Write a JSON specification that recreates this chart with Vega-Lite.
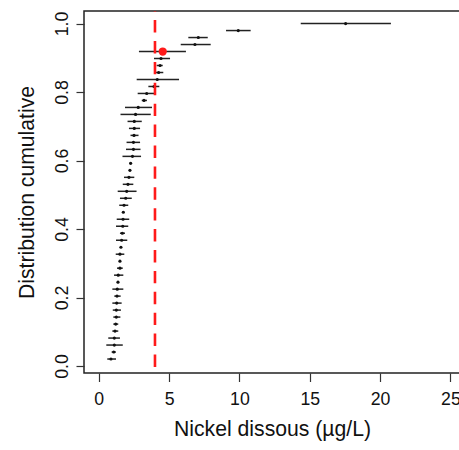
{
  "$schema": "https://vega.github.io/schema/vega-lite/v6.json",
  "width": 376,
  "height": 362,
  "autosize": {"type": "none"},
  "padding": {"left": 84, "top": 11, "right": -1, "bottom": 77},
  "background": "white",
  "config": {
    "font": "Liberation Sans",
    "view": {"stroke": "#222222", "strokeWidth": 1.5},
    "axis": {"grid": false, "domain": false, "tickColor": "#333333", "tickWidth": 1.2, "labelColor": "#111111", "titleColor": "#111111", "titleFontWeight": "normal"}
  },
  "datasets": {
    "pts": [
      {"k": 1, "p": 0.0204, "x": 0.87, "lo": 0.61, "hi": 1.23},
      {"k": 2, "p": 0.0408, "x": 1.07, "lo": 0.92, "hi": 1.22},
      {"k": 3, "p": 0.0612, "x": 1.11, "lo": 0.54, "hi": 1.71},
      {"k": 4, "p": 0.0816, "x": 1.11, "lo": 0.68, "hi": 1.51},
      {"k": 5, "p": 0.1020, "x": 1.16, "lo": 0.97, "hi": 1.39},
      {"k": 6, "p": 0.1224, "x": 1.21, "lo": 1.04, "hi": 1.39},
      {"k": 7, "p": 0.1429, "x": 1.25, "lo": 1.04, "hi": 1.54},
      {"k": 8, "p": 0.1633, "x": 1.25, "lo": 1.00, "hi": 1.58},
      {"k": 9, "p": 0.1837, "x": 1.28, "lo": 0.97, "hi": 1.63},
      {"k": 10, "p": 0.2041, "x": 1.30, "lo": 1.11, "hi": 1.56},
      {"k": 11, "p": 0.2245, "x": 1.32, "lo": 0.97, "hi": 1.75},
      {"k": 12, "p": 0.2449, "x": 1.37, "lo": 1.30, "hi": 1.44},
      {"k": 13, "p": 0.2653, "x": 1.39, "lo": 1.09, "hi": 1.75},
      {"k": 14, "p": 0.2857, "x": 1.51, "lo": 1.30, "hi": 1.71},
      {"k": 15, "p": 0.3061, "x": 1.51, "lo": 1.44, "hi": 1.58},
      {"k": 16, "p": 0.3265, "x": 1.51, "lo": 1.21, "hi": 1.82},
      {"k": 17, "p": 0.3469, "x": 1.58, "lo": 1.51, "hi": 1.65},
      {"k": 18, "p": 0.3673, "x": 1.63, "lo": 1.23, "hi": 2.03},
      {"k": 19, "p": 0.3878, "x": 1.68, "lo": 1.51, "hi": 1.87},
      {"k": 20, "p": 0.4082, "x": 1.71, "lo": 1.23, "hi": 2.10},
      {"k": 21, "p": 0.4286, "x": 1.73, "lo": 1.28, "hi": 2.17},
      {"k": 22, "p": 0.4490, "x": 1.75, "lo": 1.68, "hi": 1.82},
      {"k": 23, "p": 0.4694, "x": 1.80, "lo": 1.46, "hi": 2.10},
      {"k": 24, "p": 0.4898, "x": 1.92, "lo": 1.51, "hi": 2.35},
      {"k": 25, "p": 0.5102, "x": 1.99, "lo": 1.35, "hi": 2.69},
      {"k": 26, "p": 0.5306, "x": 2.08, "lo": 1.71, "hi": 2.46},
      {"k": 27, "p": 0.5510, "x": 2.15, "lo": 1.80, "hi": 2.53},
      {"k": 28, "p": 0.5714, "x": 2.22, "lo": 2.15, "hi": 2.29},
      {"k": 29, "p": 0.5918, "x": 2.27, "lo": 2.20, "hi": 2.34},
      {"k": 30, "p": 0.6122, "x": 2.40, "lo": 1.69, "hi": 3.01},
      {"k": 31, "p": 0.6327, "x": 2.47, "lo": 1.94, "hi": 2.97},
      {"k": 32, "p": 0.6531, "x": 2.47, "lo": 1.98, "hi": 2.94},
      {"k": 33, "p": 0.6735, "x": 2.51, "lo": 2.26, "hi": 2.83},
      {"k": 34, "p": 0.6939, "x": 2.53, "lo": 2.15, "hi": 2.94},
      {"k": 35, "p": 0.7143, "x": 2.53, "lo": 2.05, "hi": 3.06},
      {"k": 36, "p": 0.7347, "x": 2.62, "lo": 1.55, "hi": 3.70},
      {"k": 37, "p": 0.7551, "x": 2.81, "lo": 1.87, "hi": 3.79},
      {"k": 38, "p": 0.7755, "x": 3.22, "lo": 3.06, "hi": 3.43},
      {"k": 39, "p": 0.7959, "x": 3.41, "lo": 2.77, "hi": 4.07},
      {"k": 40, "p": 0.8163, "x": 3.93, "lo": 3.53, "hi": 4.31},
      {"k": 41, "p": 0.8367, "x": 4.16, "lo": 2.70, "hi": 5.71},
      {"k": 42, "p": 0.8571, "x": 4.26, "lo": 4.07, "hi": 4.59},
      {"k": 43, "p": 0.8776, "x": 4.36, "lo": 4.12, "hi": 4.55},
      {"k": 44, "p": 0.8980, "x": 4.43, "lo": 3.93, "hi": 5.07},
      {"k": 45, "p": 0.9184, "x": 4.55, "lo": 2.86, "hi": 6.20},
      {"k": 46, "p": 0.9388, "x": 6.84, "lo": 5.83, "hi": 7.96},
      {"k": 47, "p": 0.9592, "x": 7.08, "lo": 6.37, "hi": 7.75},
      {"k": 48, "p": 0.9796, "x": 9.92, "lo": 9.05, "hi": 10.80},
      {"k": 49, "p": 1.0, "x": 17.55, "lo": 14.36, "hi": 20.77}
    ],
    "ref": [{"v": 4}],
    "hl": [{"x": 4.55, "p": 0.9184}]
  },
  "layer": [
    {
      "data": {"name": "pts"},
      "mark": {"type": "rule", "color": "#222222", "strokeWidth": 1.5},
      "encoding": {
        "x": {
          "field": "lo", "type": "quantitative",
          "scale": {"domain": [-1.045, 25.68], "nice": false, "zero": false},
          "axis": {
            "orient": "bottom", "values": [0, 5, 10, 15, 20, 25], "tickSize": 8.5,
            "labelFontSize": 17.7, "labelPadding": 8.5, "labelFlush": false, "labelOverlap": false,
            "title": "Nickel dissous (µg/L)", "titleFontSize": 21.2,
            "titleBaseline": "alphabetic", "titleY": 62
          }
        },
        "x2": {"field": "hi"},
        "y": {
          "field": "p", "type": "quantitative",
          "scale": {"domain": [-0.0204, 1.0367], "nice": false, "zero": false},
          "axis": {
            "values": [0, 0.2, 0.4, 0.6, 0.8, 1.0], "format": ".1f", "tickSize": 8,
            "labelFontSize": 17.7, "labelAngle": -90, "labelAlign": "center", "labelBaseline": "alphabetic",
            "labelPadding": 8.5, "labelFlush": false, "labelOverlap": false,
            "title": "Distribution cumulative", "titleFontSize": 21.2,
            "titleBaseline": "alphabetic", "titleX": -51
          }
        }
      }
    },
    {
      "data": {"name": "pts"},
      "mark": {"type": "circle", "color": "#111111", "opacity": 1, "size": 10},
      "encoding": {
        "x": {"field": "x", "type": "quantitative"},
        "y": {"field": "p", "type": "quantitative"}
      }
    },
    {
      "data": {"name": "ref"},
      "mark": {"type": "rule", "color": "#ff1a1a", "strokeWidth": 2.6, "strokeDash": [12.4, 8.5], "strokeDashOffset": 11.8},
      "encoding": {
        "x": {"field": "v", "type": "quantitative"}
      }
    },
    {
      "data": {"name": "hl"},
      "mark": {"type": "circle", "color": "#ff1a1a", "opacity": 1, "size": 68},
      "encoding": {
        "x": {"field": "x", "type": "quantitative"},
        "y": {"field": "p", "type": "quantitative"}
      }
    }
  ]
}
